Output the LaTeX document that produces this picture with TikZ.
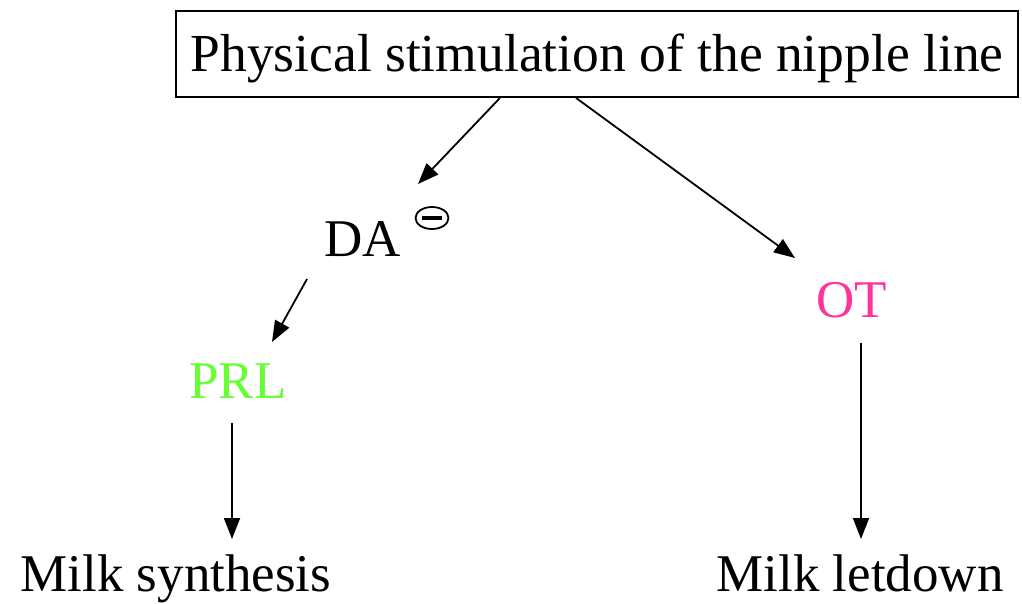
\documentclass[tikz,border=0pt]{standalone}
\usepackage{fontspec}
\setmainfont{Liberation Serif}
\usetikzlibrary{arrows.meta,shapes.geometric}
\definecolor{prlgreen}{RGB}{102,255,51}
\definecolor{otpink}{RGB}{255,51,153}
\tikzset{
  lbl/.style={anchor=base, inner sep=0pt, font=\fontsize{53}{60}\selectfont},
  arr/.style={line width=1.8pt, -{Triangle[length=21pt,width=16pt]}},
}
\begin{document}
\begin{tikzpicture}[x=1pt,y=-1pt]
\useasboundingbox (0,0) rectangle (1022,603);
\node[lbl, draw, line width=1.8pt, font=\fontsize{53.5}{60}\selectfont, text height=60pt, text depth=26pt, minimum width=842pt] (title) at (597,71) {Physical stimulation of the nipple line};
\node[lbl] (DA) at (363,256) {DA};
\node[draw, ellipse, line width=1.8pt, minimum width=33pt, minimum height=22pt, inner sep=0pt] (minus) at (432,218) {};
\draw[line width=3.5pt] ([xshift=-10pt]minus.center) -- ([xshift=10pt]minus.center);
\node[lbl, text=prlgreen] (PRL) at (238,398) {PRL};
\node[lbl, text=otpink] (OT) at (852,317) {OT};
\node[lbl] (synth) at (176,591) {Milk synthesis};
\node[lbl] (letdown) at (860,591) {Milk letdown};
\draw[arr] ([xshift=-97pt]title.south) -- ([shift={(55,-72)}]DA.base);
\draw[arr] ([xshift=-21pt]title.south) -- ([shift={(-57,-59)}]OT.base);
\draw[arr] ([shift={(-56,23)}]DA.base) -- ([shift={(34,-56)}]PRL.base);
\draw[arr] ([shift={(-6,25)}]PRL.base) -- ([shift={(56,-52)}]synth.base);
\draw[arr] ([shift={(9,26)}]OT.base) -- ([shift={(1,-52)}]letdown.base);
\end{tikzpicture}
\end{document}
